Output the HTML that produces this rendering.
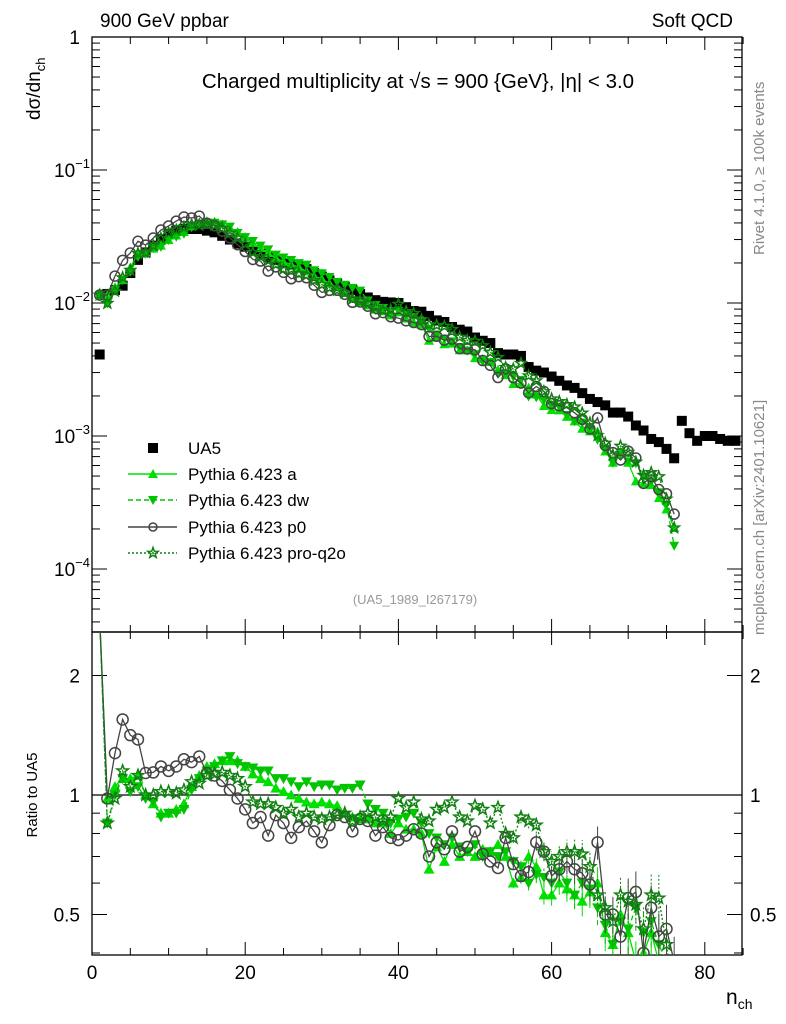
<!DOCTYPE html>
<html><head><meta charset="utf-8"><style>
html,body{margin:0;padding:0;background:#fff;overflow:hidden;width:786px;height:1024px;}
svg{display:block;font-family:"Liberation Sans",sans-serif;overflow:hidden;}
</style></head><body>
<svg id="chart" width="786" height="1024" viewBox="0 0 786 1024" xmlns="http://www.w3.org/2000/svg">
<text x="100" y="27" font-size="19">900 GeV ppbar</text>
<text x="733" y="27" font-size="19" text-anchor="end">Soft QCD</text>
<text x="418" y="88" font-size="20.5" text-anchor="middle">Charged multiplicity at √s = 900 {GeV}, |η| &lt; 3.0</text>
<text transform="translate(764,255) rotate(-90)" font-size="15" fill="#888">Rivet 4.1.0, ≥ 100k events</text>
<text transform="translate(764,635) rotate(-90)" font-size="15" fill="#888">mcplots.cern.ch [arXiv:2401.10621]</text>
<text transform="translate(40,120) rotate(-90)" font-size="19">dσ/dn<tspan font-size="13" dy="5">ch</tspan></text>
<text transform="translate(37,795) rotate(-90)" font-size="15" text-anchor="middle">Ratio to UA5</text>
<text x="726" y="1004" font-size="21">n<tspan font-size="14" dy="5">ch</tspan></text>
<text x="415" y="604" font-size="13" fill="#999" text-anchor="middle">(UA5_1989_I267179)</text>
<g id="main"></g><g id="ratio"></g><g id="legend"></g>
</svg>
<script>
const nValues=[1,2,3,4,5,6,7,8,9,10,11,12,13,14,15,16,17,18,19,20,21,22,23,24,25,26,27,28,29,30,31,32,33,34,35,36,37,38,39,40,41,42,43,44,45,46,47,48,49,50,51,52,53,54,55,56,57,58,59,60,61,62,63,64,65,66,67,68,69,70,71,72,73,74,75,76,77,78,79,80,81,82,83,84];
const ua5=[0.0041,0.0117,0.0125,0.0135,0.0168,0.0211,0.024,0.027,0.030,0.033,0.035,0.036,0.036,0.036,0.035,0.034,0.032,0.030,0.028,0.0265,0.025,0.0235,0.022,0.021,0.0200,0.0195,0.0190,0.018,0.0168,0.0158,0.0148,0.014,0.0132,0.0125,0.0117,0.011,0.0105,0.0102,0.0101,0.0100,0.0093,0.0087,0.0086,0.0080,0.0074,0.0072,0.0066,0.0063,0.0061,0.0055,0.0052,0.0050,0.0042,0.0041,0.0041,0.0040,0.0033,0.0031,0.0030,0.0028,0.0026,0.0024,0.0023,0.0021,0.0019,0.0018,0.0017,0.0015,0.0015,0.0014,0.0012,0.0011,0.00095,0.00090,0.00080,0.00068,0.0013,0.00105,0.00092,0.00100,0.00100,0.00095,0.00092,0.00092];
const ratioA=[2.8,0.98,1.05,1.1,1.1,1.12,1.0,0.95,0.9,0.9,0.92,0.95,1.05,1.12,1.18,1.2,1.22,1.22,1.22,1.18,1.13,1.1,1.08,1.04,1.02,1.0,0.98,0.96,0.95,0.96,0.95,0.94,0.9,0.88,0.87,0.87,0.85,0.85,0.8,0.85,0.82,0.82,0.8,0.65,0.74,0.68,0.75,0.7,0.72,0.7,0.73,0.72,0.75,0.7,0.6,0.62,0.7,0.66,0.56,0.56,0.6,0.58,0.56,0.54,0.57,0.6,0.45,0.42,0.5,0.45,0.38,0.4,0.45,0.38,0.35,0.3];
const ratioDW=[2.8,0.85,1.0,1.1,1.02,1.05,0.98,0.96,0.88,0.9,0.9,0.92,1.03,1.1,1.15,1.18,1.22,1.25,1.2,1.18,1.17,1.15,1.15,1.1,1.1,1.08,1.05,1.08,1.05,1.06,1.06,1.03,1.04,1.04,1.06,0.95,0.92,0.9,0.85,0.87,0.88,0.9,0.85,0.8,0.78,0.75,0.78,0.74,0.72,0.75,0.7,0.72,0.7,0.72,0.68,0.66,0.6,0.63,0.62,0.6,0.64,0.6,0.56,0.6,0.58,0.52,0.47,0.42,0.48,0.46,0.52,0.45,0.48,0.42,0.38,0.22];
const ratioP0=[2.8,0.98,1.275,1.55,1.415,1.38,1.136,1.14,1.18,1.15,1.18,1.23,1.21,1.25,1.136,1.12,1.085,1.03,0.98,0.92,0.85,0.88,0.79,0.89,0.85,0.78,0.83,0.86,0.81,0.76,0.84,0.89,0.88,0.81,0.87,0.86,0.79,0.83,0.78,0.77,0.79,0.82,0.80,0.70,0.76,0.73,0.81,0.72,0.74,0.81,0.71,0.68,0.655,0.78,0.67,0.625,0.64,0.76,0.72,0.625,0.65,0.68,0.65,0.635,0.595,0.76,0.50,0.50,0.44,0.55,0.57,0.40,0.52,0.44,0.46,0.38];
const ratioQ2O=[2.8,0.85,0.98,1.15,1.05,1.12,1.0,1.0,1.02,1.02,1.01,1.03,1.08,1.07,1.12,1.13,1.14,1.12,1.1,1.05,0.96,0.95,0.95,0.93,0.9,0.92,0.88,0.9,0.88,0.87,0.88,0.89,0.9,0.86,0.88,0.9,0.88,0.86,0.88,0.98,0.93,0.96,0.87,0.86,0.92,0.93,0.96,0.88,0.86,0.94,0.92,0.85,0.93,0.8,0.78,0.88,0.86,0.84,0.72,0.68,0.7,0.72,0.72,0.71,0.66,0.56,0.52,0.48,0.56,0.54,0.53,0.46,0.56,0.55,0.42,0.3];
const xTicks=[0,20,40,60,80];
const yTickExp=[0,-1,-2,-3,-4];
const ratioTicks=[2,1,0.5];

const NS="http://www.w3.org/2000/svg";
const L=92,R=742,T=37,MB=632,RB=955;
const xs=n=>L+(n)*7.66;
const ys=v=>T-133*Math.log10(v);
const yr=r=>795-397*Math.log10(r);
function mk(tag,attrs,parent){const e=document.createElementNS(NS,tag);for(const k in attrs)e.setAttribute(k,attrs[k]);parent.appendChild(e);return e;}
const main=document.getElementById('main'),ratio=document.getElementById('ratio'),leg=document.getElementById('legend');

const defs=mk('defs',{},main);
const c1=mk('clipPath',{id:'cm'},defs);mk('rect',{x:L,y:T,width:R-L,height:MB-T},c1);
const c2=mk('clipPath',{id:'cr'},defs);mk('rect',{x:L,y:MB,width:R-L,height:RB-MB},c2);

let f=mk('rect',{x:L,y:T,width:R-L,height:MB-T,fill:'none',stroke:'#000','stroke-width':1.3},main);


f=mk('rect',{x:L,y:MB,width:R-L,height:RB-MB,fill:'none',stroke:'#000','stroke-width':1.3},ratio);



for(let n=0;n<=85;n+=5){const maj=n%20===0;const len=maj?13:7;const x=xs(n);
 mk('line',{x1:x,x2:x,y1:RB,y2:RB-len,stroke:'#000'},ratio);
 mk('line',{x1:x,x2:x,y1:MB,y2:MB+len,stroke:'#000'},ratio);
 mk('line',{x1:x,x2:x,y1:MB,y2:MB-len,stroke:'#000'},main);
 mk('line',{x1:x,x2:x,y1:T,y2:T+len,stroke:'#000'},main);}
xTicks.forEach(n=>{const t=mk('text',{x:xs(n),y:979,'font-size':19,'text-anchor':'middle'},ratio);t.textContent=n;
 
 });

for(let e=-5;e<=0;e++){for(let m=1;m<10;m++){const v=m*Math.pow(10,e);const y=ys(v);if(y<T-0.5||y>MB)continue;const len=m===1?15:8;
 mk('line',{x1:L,x2:L+len,y1:y,y2:y,stroke:'#000'},main);mk('line',{x1:R,x2:R-len,y1:y,y2:y,stroke:'#000'},main);}}
yTickExp.forEach(e=>{const t=mk('text',{x:e===0?80:54,y:ys(Math.pow(10,e))+7,'font-size':19,'text-anchor':e===0?'end':'start'},main);
 if(e===0)t.textContent='1';else{t.textContent='10';const s=mk('tspan',{dy:-9,'font-size':13},t);s.textContent=String(e).replace('-','−');}
 
 });

[0.4,0.5,0.6,0.7,0.8,0.9,1,2].forEach(r=>{const y=yr(r);const maj=[0.5,1,2].includes(r);const len=maj?15:8;
 mk('line',{x1:L,x2:L+len,y1:y,y2:y,stroke:'#000'},ratio);mk('line',{x1:R,x2:R-len,y1:y,y2:y,stroke:'#000'},ratio);});
ratioTicks.forEach(r=>{const t=mk('text',{x:80,y:yr(r)+7,'font-size':19,'text-anchor':'end'},ratio);t.textContent=r;
 
 
 const t2=mk('text',{x:750,y:yr(r)+7,'font-size':19},ratio);t2.textContent=r;
 
 });
mk('line',{x1:L,x2:R,y1:yr(1),y2:yr(1),stroke:'#000','stroke-width':1.3},ratio);

function marker(g,type,x,y,col,s){
 if(type==='up')return mk('path',{d:`M${x} ${y-s}L${x+s} ${y+s*0.8}L${x-s} ${y+s*0.8}Z`,fill:col},g);
 if(type==='down')return mk('path',{d:`M${x} ${y+s}L${x+s} ${y-s*0.8}L${x-s} ${y-s*0.8}Z`,fill:col},g);
 if(type==='circ')return mk('circle',{cx:x,cy:y,r:s,fill:'none',stroke:col,'stroke-width':1.5},g);
 if(type==='star'){let d='';for(let i=0;i<10;i++){const a=-Math.PI/2+i*Math.PI/5;const rr=i%2?s*0.45:s*1.1;d+=(i?'L':'M')+(x+rr*Math.cos(a)).toFixed(1)+' '+(y+rr*Math.sin(a)).toFixed(1);}return mk('path',{d:d+'Z',fill:'none',stroke:col,'stroke-width':1.5},g);}
 if(type==='sq')return mk('rect',{x:x-5,y:y-5,width:10,height:10,fill:col},g);
}
const series=[
 {name:'pythia-a',r:ratioA,col:'#00e000',type:'up',dash:'',label:'Pythia 6.423 a'},
 {name:'pythia-dw',r:ratioDW,col:'#00c400',type:'down',dash:'5,3',label:'Pythia 6.423 dw'},
 {name:'pythia-p0',r:ratioP0,col:'#444',type:'circ',dash:'',label:'Pythia 6.423 p0'},
 {name:'pythia-pro-q2o',r:ratioQ2O,col:'#108010',type:'star',dash:'2,2',label:'Pythia 6.423 pro-q2o'}];

const gu=mk('g',{'clip-path':'url(#cm)'},main);


ua5.forEach((v,i)=>{const m=marker(gu,'sq',xs(nValues[i]),ys(v),'#000');
 
 });

series.forEach(s=>{
 const gm=mk('g',{'clip-path':'url(#cm)'},main);
 
 
 const gr=mk('g',{'clip-path':'url(#cr)'},ratio);
 
 
 let dm='',dr='';
 s.r.forEach((r,i)=>{const n=nValues[i];const v=ua5[i]*r;dm+=(i?'L':'M')+xs(n)+' '+ys(v);dr+=(i?'L':'M')+xs(n)+' '+yr(r);});
 mk('path',{d:dm,fill:'none',stroke:s.col,'stroke-width':1.3,'stroke-dasharray':s.dash},gm);
 mk('path',{d:dr,fill:'none',stroke:s.col,'stroke-width':1.3,'stroke-dasharray':s.dash},gr);
 s.r.forEach((r,i)=>{const n=nValues[i];const v=ua5[i]*r;
  const p=marker(gm,s.type,xs(n),ys(v),s.col,5);
  
  
  const q=marker(gr,s.type,xs(n),yr(r),s.col,5.5);
  
  
  if(n>=55){const e=(n-50)*0.006;mk('line',{x1:xs(n),x2:xs(n),y1:yr(r*(1-e)),y2:yr(r*(1+e)),stroke:s.col,'stroke-dasharray':s.dash},gr);}
 });
});

const rowsY=[448,474,500,527,553];
const ui=mk('g',{},leg);


marker(ui,'sq',153,rowsY[0],'#000');
let lt=mk('text',{x:188,y:rowsY[0]+6,'font-size':17},ui);lt.textContent='UA5';
series.forEach((s,i)=>{const g=mk('g',{},leg);
 
 
 const y=rowsY[i+1];
 mk('line',{x1:128,x2:177,y1:y,y2:y,stroke:s.col,'stroke-width':1.5,'stroke-dasharray':s.dash},g);
 marker(g,s.type,153,y,s.col,s.type==='circ'?4:5);
 const t=mk('text',{x:188,y:y+6,'font-size':17},g);t.textContent=s.label;});
</script>
</body></html>
